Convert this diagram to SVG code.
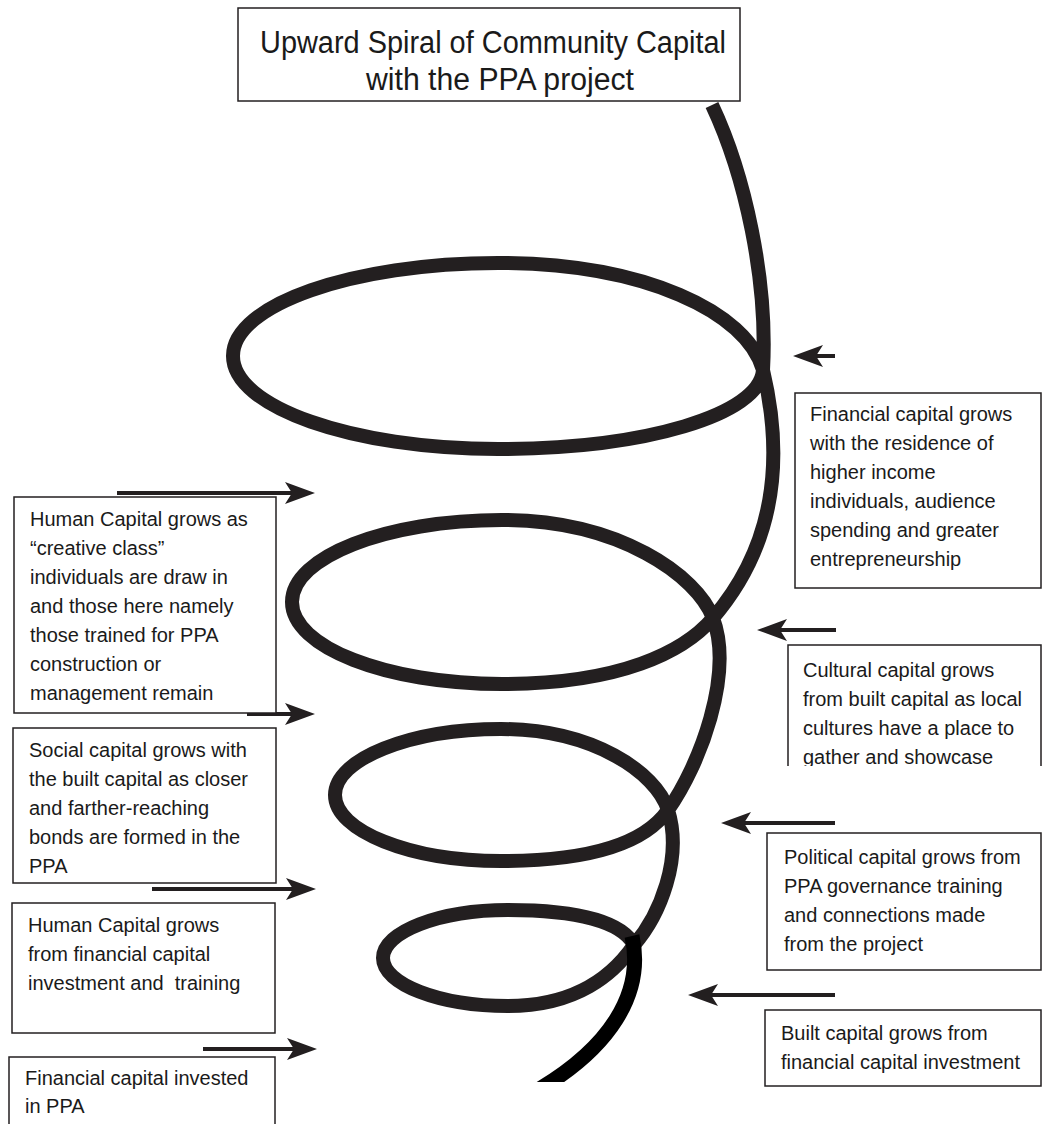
<svg xmlns="http://www.w3.org/2000/svg" width="1043" height="1124" viewBox="0 0 1043 1124">
<style>
.box{fill:#ffffff;stroke:#231f20;stroke-width:1.5}
.txt{font-family:"Liberation Sans",Arial,sans-serif;font-size:20px;fill:#1a1a1a;white-space:pre}
.title{font-family:"Liberation Sans",Arial,sans-serif;font-size:31px;fill:#1a1a1a;text-anchor:middle}
.spiral{fill:none;stroke:#231f20;stroke-width:14;stroke-linejoin:round}
.tail{fill:none;stroke:#000000;stroke-width:15}
.arr{stroke:#231f20;stroke-width:4;fill:none;marker-end:url(#head)}
</style>
<defs>
<marker id="head" markerUnits="userSpaceOnUse" viewBox="-12 -12 34 24" markerWidth="34" markerHeight="24" refX="0" refY="0" orient="auto" overflow="visible">
<path d="M20,0 L-10,-11 L-3,0 L-10,11 Z" fill="#231f20"/>
</marker>
<clipPath id="clipBottom"><rect x="0" y="0" width="1043" height="1082"/></clipPath>
<clipPath id="clipCult"><rect x="788" y="645" width="255" height="121"/></clipPath>
</defs>

<g id="title">
<rect class="box" x="238" y="8" width="502" height="93"/>
<text class="title" x="493" y="53" textLength="466" lengthAdjust="spacingAndGlyphs">Upward Spiral of Community Capital</text>
<text class="title" x="500" y="90" textLength="268" lengthAdjust="spacingAndGlyphs">with the PPA project</text>
</g>

<g id="spiral">
<path class="spiral" d="M712,105 C745,175 768,280 763,370 C760,415 644,449 498,449 C352,449 233,407 233,356 C233,305 352,263 498,263 C644,263 747,312 763,370 C782,450 780,540 713,618 C684,652 620,684 502,684 C386,684 292,647 292,602 C292,557 386,520 502,520 C620,520 697,576 713,618 C734,674 700,765 668,810 C645,843 592,861 501,861 C410,861 335,831 335,795 C335,759 410,729 501,729 C592,729 656,772 668,810 C683,858 660,915 634,945 C614,974 577,1006 508,1006 C439,1006 383,984 383,958 C383,932 439,910 508,910 C577,910 622,922 634,945"/>
<path class="tail" clip-path="url(#clipBottom)" d="M632,936 C644,990 615,1050 520,1100"/>
</g>

<g id="connectors">
<line class="arr" x1="117" y1="493" x2="295" y2="493"/>
<line class="arr" x1="247" y1="714" x2="295" y2="714"/>
<line class="arr" x1="152" y1="889" x2="296" y2="889"/>
<line class="arr" x1="203" y1="1049" x2="297" y2="1049"/>
<line class="arr" x1="835" y1="356" x2="813" y2="356"/>
<line class="arr" x1="836" y1="630" x2="777" y2="630"/>
<line class="arr" x1="835" y1="823" x2="741" y2="823"/>
<line class="arr" x1="835" y1="995" x2="708" y2="995"/>
</g>

<g id="box-human1">
<rect class="box" x="14" y="497" width="262" height="216"/>
<text class="txt" x="30" y="526">Human Capital grows as</text>
<text class="txt" x="30" y="555">“creative class”</text>
<text class="txt" x="30" y="584">individuals are draw in</text>
<text class="txt" x="30" y="613">and those here namely</text>
<text class="txt" x="30" y="642">those trained for PPA</text>
<text class="txt" x="30" y="671">construction or</text>
<text class="txt" x="30" y="700">management remain</text>
</g>

<g id="box-social">
<rect class="box" x="13" y="728" width="263" height="155"/>
<text class="txt" x="29" y="757">Social capital grows with</text>
<text class="txt" x="29" y="786">the built capital as closer</text>
<text class="txt" x="29" y="815">and farther-reaching</text>
<text class="txt" x="29" y="844">bonds are formed in the</text>
<text class="txt" x="29" y="873">PPA</text>
</g>

<g id="box-human2">
<rect class="box" x="12" y="903" width="263" height="130"/>
<text class="txt" x="28" y="932">Human Capital grows</text>
<text class="txt" x="28" y="961">from financial capital</text>
<text class="txt" x="28" y="990">investment and  training</text>
</g>

<g id="box-finvest">
<rect class="box" x="9" y="1057" width="266" height="80"/>
<text class="txt" x="25" y="1085">Financial capital invested</text>
<text class="txt" x="25" y="1113">in PPA</text>
</g>

<g id="box-financial">
<rect class="box" x="795" y="393" width="246" height="195"/>
<text class="txt" x="810" y="421">Financial capital grows</text>
<text class="txt" x="810" y="450">with the residence of</text>
<text class="txt" x="810" y="479">higher income</text>
<text class="txt" x="810" y="508">individuals, audience</text>
<text class="txt" x="810" y="537">spending and greater</text>
<text class="txt" x="810" y="566">entrepreneurship</text>
</g>

<g id="box-cultural">
<path d="M788,766 L788,645 L1041,645 L1041,766" fill="#ffffff" stroke="#231f20" stroke-width="1.5"/>
<g clip-path="url(#clipCult)">
<text class="txt" x="803" y="677">Cultural capital grows</text>
<text class="txt" x="803" y="706">from built capital as local</text>
<text class="txt" x="803" y="735">cultures have a place to</text>
<text class="txt" x="803" y="764">gather and showcase</text>
</g>
</g>

<g id="box-political">
<rect class="box" x="767" y="833" width="274" height="137"/>
<text class="txt" x="784" y="864">Political capital grows from</text>
<text class="txt" x="784" y="893">PPA governance training</text>
<text class="txt" x="784" y="922">and connections made</text>
<text class="txt" x="784" y="951">from the project</text>
</g>

<g id="box-built">
<rect class="box" x="765" y="1010" width="276" height="76"/>
<text class="txt" x="781" y="1040">Built capital grows from</text>
<text class="txt" x="781" y="1069">financial capital investment</text>
</g>
</svg>
